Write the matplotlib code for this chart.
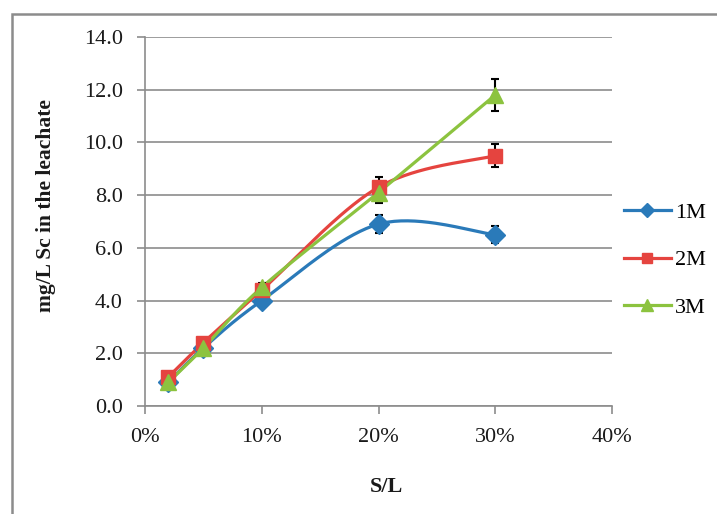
import numpy as np
import matplotlib
matplotlib.use("Agg")
import matplotlib.pyplot as plt
from matplotlib.patches import Rectangle
from matplotlib.ticker import FuncFormatter
from matplotlib.lines import Line2D

# ---- data ----
sl = [0.02, 0.05, 0.10, 0.20, 0.30]
sc_1m = [0.9, 2.2, 4.0, 6.9, 6.5]
sc_2m = [1.1, 2.4, 4.4, 8.3, 9.5]
sc_3m = [0.9, 2.2, 4.5, 8.1, 11.8]
err_1m = [0.1, 0.1, 0.15, 0.35, 0.33]
err_2m = [0.1, 0.1, 0.15, 0.4, 0.45]
err_3m = [0.1, 0.1, 0.15, 0.4, 0.6]
series_labels = ["1M", "2M", "3M"]
x_ticks = [0.0, 0.1, 0.2, 0.3, 0.4]
y_ticks = [0, 2, 4, 6, 8, 10, 12, 14]

colors = ["#2a7ab9", "#e5443f", "#8cc33f"]
markers = ["D", "s", "^"]
msizes = [10, 10.5, 12]
leg_msizes = [7, 7.5, 8.5]

plt.rcParams["font.family"] = ["Liberation Serif", "DejaVu Serif"]


def smooth(x, y, n=40):
    """Excel-like smoothed line (Catmull-Rom Bezier) through the points."""
    P = np.column_stack([np.asarray(x, float), np.asarray(y, float)])
    m = len(P)
    Pe = np.vstack([P[0], P, P[-1]])
    t = np.linspace(0, 1, n)[:, None]
    out = []
    for i in range(m - 1):
        p0 = Pe[i + 1]
        p3 = Pe[i + 2]
        p1 = p0 + (Pe[i + 2] - Pe[i]) / 6.0
        p2 = p3 - (Pe[i + 3] - Pe[i + 1]) / 6.0
        seg = ((1 - t) ** 3) * p0 + 3 * ((1 - t) ** 2) * t * p1 + 3 * (1 - t) * t ** 2 * p2 + t ** 3 * p3
        out.append(seg if i == 0 else seg[1:])
    out = np.vstack(out)
    return out[:, 0], out[:, 1]


W, H = 717, 514
fig = plt.figure(figsize=(W / 100, H / 100), dpi=100)
ax = fig.add_axes([145 / W, 1 - 406 / H, (612 - 145) / W, (406 - 37) / H])

# outer chart-area frame (partially cropped at right and bottom)
fig.patches.append(Rectangle((12 / W, -0.2), 1.2, 0.2 + (1 - 14 / H),
                             transform=fig.transFigure, fill=False,
                             edgecolor="#8c8c8c", lw=1.8))

ys = [sc_1m, sc_2m, sc_3m]
errs = [err_1m, err_2m, err_3m]
handles = []
for y, e, c, mk, ms, lms, lab in zip(ys, errs, colors, markers, msizes, leg_msizes, series_labels):
    xs, yy = smooth(sl, y)
    ax.plot(xs, yy, color=c, lw=2.3, zorder=3, solid_capstyle="round")
    ax.errorbar(sl, y, yerr=e, fmt="none", ecolor="black", elinewidth=1.5,
                capsize=3, capthick=1.5, zorder=4)
    ax.plot(sl, y, linestyle="none", marker=mk, markersize=ms, color=c, zorder=5)
    handles.append(Line2D([0], [0], color=c, lw=2.3, marker=mk, markersize=lms, label=lab))

ax.set_xlim(0, 0.4)
ax.set_ylim(0, 14)
ax.set_xticks(x_ticks)
ax.set_yticks(y_ticks)
ax.xaxis.set_major_formatter(FuncFormatter(lambda v, p: f"{v * 100:.0f}%"))
ax.yaxis.set_major_formatter(FuncFormatter(lambda v, p: f"{v:.1f}"))
ax.grid(axis="y", color="#8c8c8c", lw=1.2)
ax.set_axisbelow(True)
for s in ["top", "right"]:
    ax.spines[s].set_visible(False)
for s in ["left", "bottom"]:
    ax.spines[s].set_color("#8c8c8c")
    ax.spines[s].set_linewidth(1.2)
ax.tick_params(axis="both", direction="out", length=6, width=1.2, color="#8c8c8c",
               labelsize=16, labelcolor="#1a1a1a")
ax.tick_params(axis="x", pad=10)
ax.tick_params(axis="y", pad=10)

fig.text(386 / W, 1 - 487 / H, "S/L", fontsize=16, fontweight="bold",
         ha="center", va="center", color="#1a1a1a")
fig.text(46 / W, 1 - 206 / H, "mg/L Sc in the leachate", fontsize=15.5, fontweight="bold",
         ha="center", va="center", rotation=90, color="#1a1a1a")

fig.legend(handles=handles, loc="center left", bbox_to_anchor=(624 / W, 1 - 260 / H),
           frameon=False, fontsize=16, handlelength=2.1, labelspacing=1.22,
           handletextpad=0.2, borderaxespad=0, borderpad=0)

fig.savefig("out.png", dpi=100)
